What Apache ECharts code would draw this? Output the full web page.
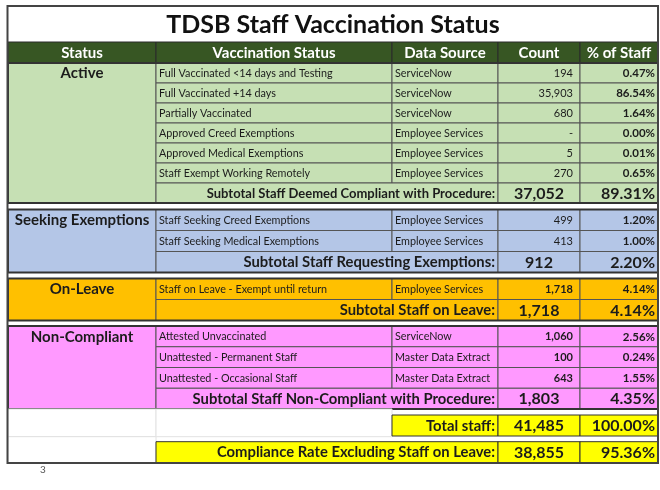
<!DOCTYPE html>
<html>
<head>
<meta charset="utf-8">
<script src="https://cdn.jsdelivr.net/npm/echarts@6/dist/echarts.min.js"></script>
<style>
  html, body { margin: 0; padding: 0; background: #fff; }
  #main { width: 660px; height: 490px; }
</style>
</head>
<body>
<div id="main"></div>
<script>
// ---- data ----
const title = 'TDSB Staff Vaccination Status';
const headers = ['Status', 'Vaccination Status', 'Data Source', 'Count', '% of Staff'];
const groupNames = ['Active', 'Seeking Exemptions', 'On-Leave', 'Non-Compliant'];

const activeItems = ['Full Vaccinated <14 days and Testing', 'Full Vaccinated +14 days', 'Partially Vaccinated',
  'Approved Creed Exemptions', 'Approved Medical Exemptions', 'Staff Exempt Working Remotely'];
const activeSources = ['ServiceNow', 'ServiceNow', 'ServiceNow', 'Employee Services', 'Employee Services', 'Employee Services'];
const activeCounts = [194, 35903, 680, 0, 5, 270];
const activePcts = [0.47, 86.54, 1.64, 0.00, 0.01, 0.65];

const seekingItems = ['Staff Seeking Creed Exemptions', 'Staff Seeking Medical Exemptions'];
const seekingSources = ['Employee Services', 'Employee Services'];
const seekingCounts = [499, 413];
const seekingPcts = [1.20, 1.00];

const leaveItems = ['Staff on Leave - Exempt until return'];
const leaveSources = ['Employee Services'];
const leaveCounts = [1718];
const leavePcts = [4.14];

const nonItems = ['Attested Unvaccinated', 'Unattested - Permanent Staff', 'Unattested - Occasional Staff'];
const nonSources = ['ServiceNow', 'Master Data Extract', 'Master Data Extract'];
const nonCounts = [1060, 100, 643];
const nonPcts = [2.56, 0.24, 1.55];

const subtotalLabels = ['Subtotal Staff Deemed Compliant with Procedure:', 'Subtotal Staff Requesting Exemptions:',
  'Subtotal Staff on Leave:', 'Subtotal Staff Non-Compliant with Procedure:'];
const subtotalCounts = [37052, 912, 1718, 1803];
const subtotalPcts = [89.31, 2.20, 4.14, 4.35];

const totalLabels = ['Total staff:', 'Compliance Rate Excluding Staff on Leave:'];
const totalCounts = [41485, 38855];
const totalPcts = [100.00, 95.36];
const pageNumber = '3';

// ---- layout / style ----
const colX = [8, 156, 392, 498, 580, 658];
const sectionTop = [63, 209.5, 278.5, 326];
const sectionRowH = [20, 21, 21, 20.75];
const sectionFill = ['#c6e0b4', '#b4c6e7', '#ffc000', '#ff99ff'];
const subtotalSize = [13, 14.8, 14.8, 14.8];
const countBold = [false, false, true, true];
const FONT = 'Lato';
const DARK = '#1c1c1c';
const LINE = '#555';

const sections = [
  [activeItems, activeSources, activeCounts, activePcts],
  [seekingItems, seekingSources, seekingCounts, seekingPcts],
  [leaveItems, leaveSources, leaveCounts, leavePcts],
  [nonItems, nonSources, nonCounts, nonPcts]
];

function fmtCount(v) { return v === 0 ? '-' : v.toLocaleString('en-US'); }
function fmtPct(v) { return v.toFixed(2) + '%'; }

const cells = [];
function cell(x0, x1, y0, y1, o) {
  cells.push(Object.assign({ x0: x0, x1: x1, y0: y0, y1: y1, fill: null, stroke: LINE, lw: 1,
    text: '', align: 'left', size: 10.8, bold: false, color: DARK, pad: 3 }, o));
}

// title + header
cell(8, 658, 6, 42, { fill: '#fff', stroke: null, text: title, align: 'center', size: 25, bold: true, color: '#111' });
headers.forEach((h, i) => {
  cell(colX[i], colX[i + 1], 42, 63, { fill: '#375623', stroke: '#2a2a2a', text: h, align: 'center', size: 15, bold: true, color: '#fff' });
});

// sections
sections.forEach((sec, s) => {
  const top = sectionTop[s], h = sectionRowH[s], n = sec[0].length;
  const fill = sectionFill[s];
  cell(colX[0], colX[1], top, top + (n + 1) * h, { fill: fill, text: groupNames[s], align: 'center', size: 15, bold: true, ty: top + h / 2 });
  sec[0].forEach((name, r) => {
    const y0 = top + r * h, y1 = y0 + h;
    cell(colX[1], colX[2], y0, y1, { fill: fill, text: name });
    cell(colX[2], colX[3], y0, y1, { fill: fill, text: sec[1][r] });
    cell(colX[3], colX[4], y0, y1, { fill: fill, text: fmtCount(sec[2][r]), align: 'right', pad: 7, size: 11, bold: countBold[s] });
    cell(colX[4], colX[5], y0, y1, { fill: fill, text: fmtPct(sec[3][r]), align: 'right', size: 11.5, bold: true });
  });
  const ys = top + n * h;
  cell(colX[1], colX[3], ys, ys + h, { fill: fill, text: subtotalLabels[s], align: 'right', size: subtotalSize[s], bold: true });
  cell(colX[3], colX[4], ys, ys + h, { fill: fill, text: fmtCount(subtotalCounts[s]), align: 'center', size: 16, bold: true });
  cell(colX[4], colX[5], ys, ys + h, { fill: fill, text: fmtPct(subtotalPcts[s]), align: 'right', size: 16, bold: true });
  cell(colX[0], colX[5], top, top + (n + 1) * h, { stroke: '#333', lw: 2 });
});

// totals
cell(colX[0], colX[1], 409, 436.7, { fill: '#fff', stroke: '#e2e2e2' });
cell(colX[1], colX[2], 409, 436.7, { fill: '#fff', stroke: '#e2e2e2' });
cell(colX[0], colX[1], 436.7, 462.7, { fill: '#fff', stroke: '#e2e2e2' });
cell(colX[2], colX[3], 415, 436, { fill: '#ffff00', stroke: '#333', text: totalLabels[0], align: 'right', size: 14.8, bold: true });
cell(colX[3], colX[4], 415, 436, { fill: '#ffff00', stroke: '#333', text: fmtCount(totalCounts[0]), align: 'center', size: 16, bold: true });
cell(colX[4], colX[5], 415, 436, { fill: '#ffff00', stroke: '#333', text: fmtPct(totalPcts[0]), align: 'right', size: 16, bold: true });
cell(colX[1], colX[3], 441.7, 462.7, { fill: '#ffff00', stroke: '#333', text: totalLabels[1], align: 'right', size: 14.8, bold: true });
cell(colX[3], colX[4], 441.7, 462.7, { fill: '#ffff00', stroke: '#333', text: fmtCount(totalCounts[1]), align: 'center', size: 16, bold: true });
cell(colX[4], colX[5], 441.7, 462.7, { fill: '#ffff00', stroke: '#333', text: fmtPct(totalPcts[1]), align: 'right', size: 16, bold: true });

// outer frame + page number
cell(7.5, 658, 6, 463, { stroke: '#444', lw: 2 });
cell(38, 48, 463, 475, { stroke: null, text: pageNumber, align: 'center', size: 10, color: '#555' });

const chart = echarts.init(document.getElementById('main'));
chart.setOption({
  animation: false,
  grid: { left: 0, right: 0, top: 0, bottom: 0 },
  xAxis: { type: 'value', min: 0, max: 660, show: false },
  yAxis: { type: 'value', min: 0, max: 490, inverse: true, show: false },
  series: [{
    type: 'custom',
    silent: true,
    data: cells.map(c => [c.x0, c.y0, c.x1, c.y1]),
    renderItem: function (params, api) {
      const c = cells[params.dataIndex];
      const p0 = api.coord([api.value(0), api.value(1)]);
      const p1 = api.coord([api.value(2), api.value(3)]);
      const x = Math.min(p0[0], p1[0]), y = Math.min(p0[1], p1[1]);
      const w = Math.abs(p1[0] - p0[0]), h = Math.abs(p1[1] - p0[1]);
      const children = [];
      if (c.fill || c.stroke) {
        children.push({
          type: 'rect',
          shape: { x: x, y: y, width: w, height: h },
          style: { fill: c.fill || 'none', stroke: c.stroke || 'none', lineWidth: c.lw }
        });
      }
      if (c.text) {
        let tx = x + c.pad;
        if (c.align === 'right') tx = x + w - c.pad;
        if (c.align === 'center') tx = x + w / 2;
        const ty = c.ty != null ? api.coord([0, c.ty])[1] : y + h / 2;
        children.push({
          type: 'text',
          style: {
            text: c.text, x: tx, y: ty + 0.5, align: c.align, verticalAlign: 'middle',
            fontSize: c.size, fontWeight: c.bold ? 'bold' : 'normal', fontFamily: FONT, fill: c.color
          }
        });
      }
      return { type: 'group', children: children };
    }
  }]
});
</script>
</body>
</html>
